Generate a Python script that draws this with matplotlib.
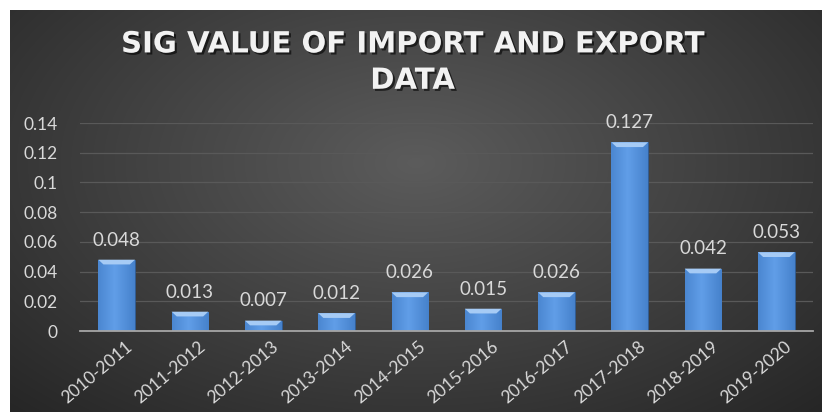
import matplotlib.pyplot as plt
import matplotlib.patheffects as pe
import matplotlib.transforms as mtransforms
from matplotlib.patches import Polygon
import numpy as np

# periods and sig values
periods = ["2010-2011", "2011-2012", "2012-2013", "2013-2014", "2014-2015",
           "2015-2016", "2016-2017", "2017-2018", "2018-2019", "2019-2020"]
sig_values = [0.048, 0.013, 0.007, 0.012, 0.026, 0.015, 0.026, 0.127, 0.042, 0.053]
y_ticks = [0, 0.02, 0.04, 0.06, 0.08, 0.1, 0.12, 0.14]
y_tick_labels = ["0", "0.02", "0.04", "0.06", "0.08", "0.1", "0.12", "0.14"]
title = "SIG VALUE OF IMPORT AND EXPORT\nDATA"

W, H = 825, 412
fig = plt.figure(figsize=(W / 100, H / 100), dpi=100)
fig.patch.set_facecolor("white")

# dark background with a soft radial glow in the middle
bg = fig.add_axes([10 / W, 0, 812 / W, 402 / H])
bg.set_axis_off()
yy, xx = np.mgrid[0:1:300j, 0:1:600j]
r = np.sqrt(((xx - 0.5) / 0.75) ** 2 + ((yy - 0.62) / 0.9) ** 2)
shade = np.clip(0.36 - 0.22 * r, 0.14, 0.36)
bg.imshow(np.dstack([shade, shade, shade]), aspect="auto", extent=[0, 1, 0, 1],
          origin="lower", interpolation="bicubic")
bg.set_xlim(0, 1)
bg.set_ylim(0, 1)

ax = fig.add_axes([80 / W, 81 / H, 733 / W, 208 / H])
ax.set_facecolor("none")
x = np.arange(len(periods))
bar_w = 0.5

ax.set_xlim(-0.5, len(periods) - 0.5)
ax.set_ylim(0, 0.14)
ax.set_yticks(y_ticks)
ax.set_yticklabels(y_tick_labels)
ax.grid(axis="y", color="#595959", linewidth=0.9)
ax.set_axisbelow(True)
for s in ["top", "right", "left"]:
    ax.spines[s].set_visible(False)
ax.spines["bottom"].set_color("#a6a6a6")
ax.spines["bottom"].set_linewidth(1.3)
ax.spines["bottom"].set_zorder(5)
ax.tick_params(axis="both", length=0, colors="#d9d9d9", labelsize=12.5)
ax.tick_params(axis="y", pad=16)
ax.tick_params(axis="x", pad=5)

ax.set_xticks(x)
ax.set_xticklabels(periods, rotation=40, ha="right", rotation_mode="anchor",
                   family="Lato")
shift = mtransforms.ScaledTranslation(6 / 72, 0, fig.dpi_scale_trans)
for lab in ax.get_xticklabels():
    lab.set_transform(lab.get_transform() + shift)
for lab in ax.get_yticklabels():
    lab.set_family("Lato")

bars = ax.bar(x, sig_values, width=bar_w, color="#4a85cf", zorder=3,
              edgecolor="#2f5c94", linewidth=0.6)

# horizontal gradient inside each bar, then a light bevel on top
grad = np.linspace(0, 1, 64)
prof = 1 - 0.6 * np.abs(grad - 0.45) * 2
cols = np.zeros((1, 64, 3))
cols[0, :, 0] = 0.22 + 0.16 * prof
cols[0, :, 1] = 0.45 + 0.17 * prof
cols[0, :, 2] = 0.74 + 0.17 * prof
bevel_h = 0.0032
bevel_d = 0.07
for b, v in zip(bars, sig_values):
    x0 = b.get_x()
    x1 = x0 + b.get_width()
    im = ax.imshow(cols, aspect="auto", extent=[x0, x1, 0, v], zorder=3.5,
                   interpolation="bicubic")
    im.set_clip_path(b)
    top = Polygon([[x0, v], [x1, v], [x1 - bevel_d, v - bevel_h],
                   [x0 + bevel_d, v - bevel_h]], closed=True,
                  facecolor="#a6cbf5", edgecolor="none", zorder=4)
    ax.add_patch(top)
    ax.annotate(f"{v:.3f}", (b.get_x() + b.get_width() / 2, v),
                xytext=(0, 8), textcoords="offset points", ha="center",
                va="bottom", color="#d9d9d9", fontsize=13.5, family="Lato")

fig.text(0.5, 0.848, title, ha="center", va="center", color="#f2f2f2",
         fontsize=21, fontweight="bold", family="DejaVu Sans", linespacing=1.38,
         path_effects=[pe.withSimplePatchShadow(offset=(1.5, -1.5),
                                                shadow_rgbFace="black",
                                                alpha=0.6)])

fig.savefig("out.png", dpi=100)
